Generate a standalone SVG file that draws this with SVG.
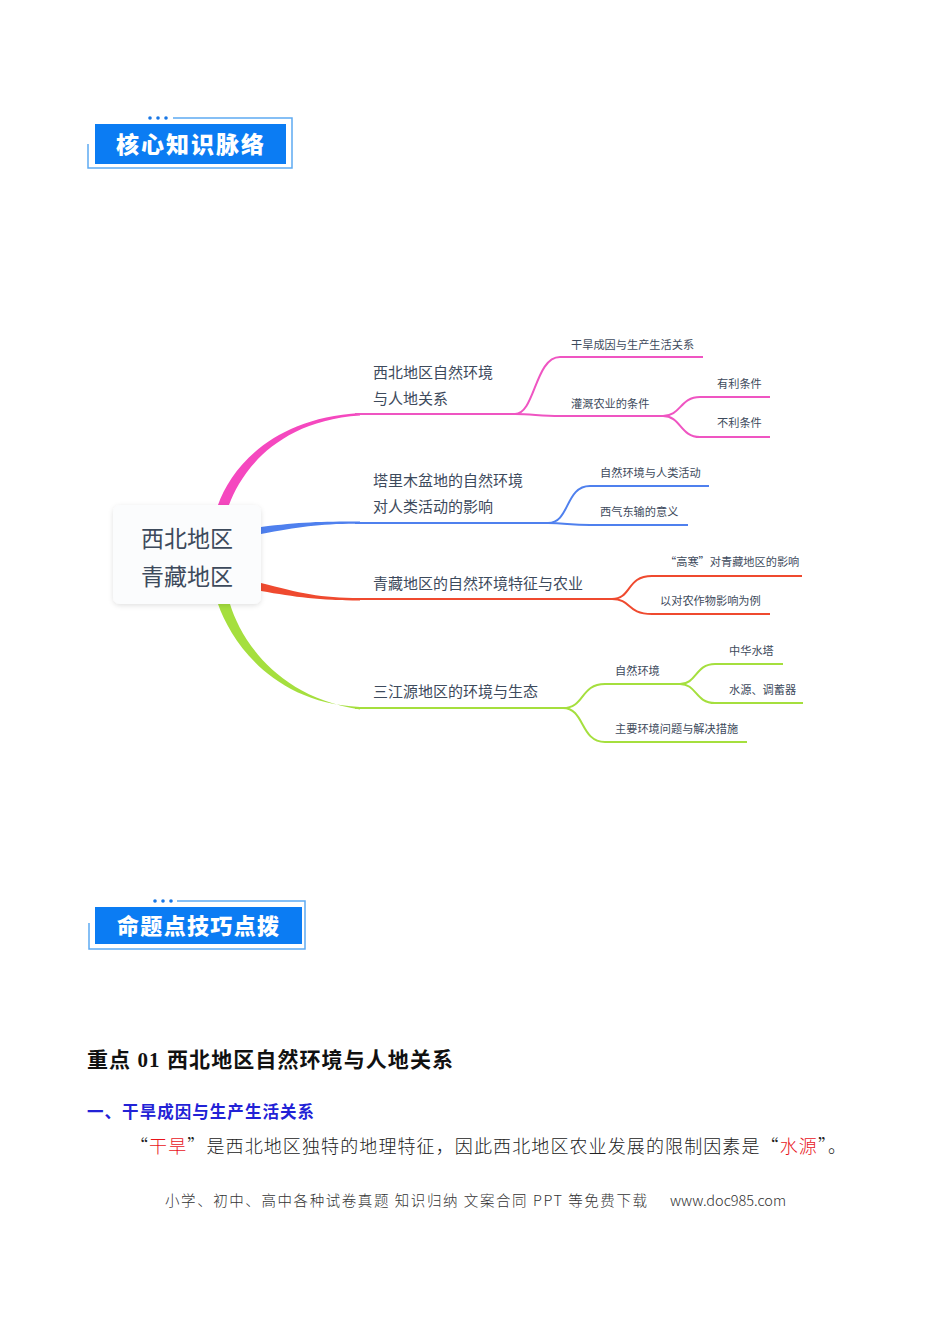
<svg xmlns="http://www.w3.org/2000/svg" width="950" height="1344" viewBox="0 0 950 1344">
<defs>
<style>
.hdr{font-family:"Noto Sans CJK SC",sans-serif;font-weight:900;fill:#ffffff;}
.frame{fill:none;stroke:#5eaaf2;stroke-width:1.5;}
.dot{fill:#1877e6;}
.mm{font-family:"Noto Sans CJK SC",sans-serif;fill:#3d4a5c;}
.t1{font-size:15px;}
.t2{font-size:11.2px;}
.pk{fill:none;stroke:#ef55c2;stroke-width:2;}
.bl{fill:none;stroke:#4f80ee;stroke-width:2;}
.rd{fill:none;stroke:#ef4a2f;stroke-width:2;}
.gr{fill:none;stroke:#a5df3e;stroke-width:2;}
.body{font-family:"Liberation Serif","Noto Sans CJK SC",serif;}
</style>
<filter id="sh" x="-20%" y="-20%" width="140%" height="150%">
<feDropShadow dx="0" dy="1.5" stdDeviation="2.5" flood-color="#000" flood-opacity="0.12"/>
</filter>
</defs>
<rect width="950" height="1344" fill="#ffffff"/>

<g id="header1">
<path class="frame" d="M173 118 H292 V168 H88 V144"/>
<circle class="dot" cx="150" cy="118" r="1.8"/><circle class="dot" cx="158" cy="118" r="1.8"/><circle class="dot" cx="166" cy="118" r="1.8"/>
<rect x="95" y="124" width="191" height="40" fill="#0b7cf3"/>
<text class="hdr" x="190" y="153" font-size="23" text-anchor="middle" textLength="148">核心知识脉络</text>
</g>

<g id="connectors">
<path d="M218 505 C231 468 272 418 360 413 L360 415.5 C277 421 241 472 229 505 Z" fill="#f548bf"/>
<path d="M261 527 C300 522 320 521.5 360 521.5 L360 523.8 C320 523.5 300 527 261 534 Z" fill="#4f80ee"/>
<path d="M261 583 C300 593 320 598 360 598 L360 600.5 C320 600.5 295 597 261 591 Z" fill="#ef4a2f"/>
<path d="M218 604 C231 641 272 703 360 707 L360 709.5 C277 697 241 640 230 604 Z" fill="#a5df3e"/>

<path class="pk" d="M355 414 L515 414"/>
<path class="pk" d="M515 414 C535 414 535 357 560 357 L703 357"/>
<path class="pk" d="M515 414 C532 414 540 416 560 416 L663 416"/>
<path class="pk" d="M663 416 C681 416 680 397 700 397 L770 397"/>
<path class="pk" d="M663 416 C681 416 680 437 700 437 L770 437"/>

<path class="bl" d="M355 523 L548 523"/>
<path class="bl" d="M548 523 C570 523 565 486 590 486 L709 486"/>
<path class="bl" d="M548 523 C565 523 570 525 590 525 L688 525"/>

<path class="rd" d="M355 599 L612 599"/>
<path class="rd" d="M612 599 C632 599 626 576 652 576 L802 576"/>
<path class="rd" d="M612 599 C632 599 626 614 652 614 L770 614"/>

<path class="gr" d="M355 708 L563 708"/>
<path class="gr" d="M563 708 C585 708 580 684 605 684 L680 684"/>
<path class="gr" d="M680 684 C697 684 695 664 715 664 L783 664"/>
<path class="gr" d="M680 684 C697 684 695 703 715 703 L803 703"/>
<path class="gr" d="M563 708 C585 708 580 742 605 742 L747 742"/>
</g>

<g id="root">
<rect x="113" y="505" width="148" height="99" rx="7" fill="#fbfcfd" filter="url(#sh)"/>
<text class="mm" x="187" y="547" font-size="23" text-anchor="middle">西北地区</text>
<text class="mm" x="187" y="585" font-size="23" text-anchor="middle">青藏地区</text>
</g>

<g id="n-xibei">
<text class="mm t1" x="373" y="378">西北地区自然环境</text>
<text class="mm t1" x="373" y="404">与人地关系</text>
</g>
<g id="n-ganhan"><text class="mm t2" x="571" y="349">干旱成因与生产生活关系</text></g>
<g id="n-guangai"><text class="mm t2" x="571" y="408">灌溉农业的条件</text></g>
<g id="n-youli"><text class="mm t2" x="717" y="388">有利条件</text></g>
<g id="n-buli"><text class="mm t2" x="717" y="427">不利条件</text></g>

<g id="n-talimu">
<text class="mm t1" x="373" y="486">塔里木盆地的自然环境</text>
<text class="mm t1" x="373" y="512">对人类活动的影响</text>
</g>
<g id="n-ziran1"><text class="mm t2" x="600" y="477">自然环境与人类活动</text></g>
<g id="n-xiqi"><text class="mm t2" x="600" y="516">西气东输的意义</text></g>

<g id="n-qingzang"><text class="mm t1" x="373" y="589">青藏地区的自然环境特征与农业</text></g>
<g id="n-gaohan"><text class="mm t2" x="665" y="566">“高寒”对青藏地区的影响</text></g>
<g id="n-nongzuowu"><text class="mm t2" x="660" y="605">以对农作物影响为例</text></g>

<g id="n-sanjiangyuan"><text class="mm t1" x="373" y="697">三江源地区的环境与生态</text></g>
<g id="n-ziran2"><text class="mm t2" x="615" y="675">自然环境</text></g>
<g id="n-zhonghua"><text class="mm t2" x="729" y="655">中华水塔</text></g>
<g id="n-shuiyuan"><text class="mm t2" x="729" y="694">水源、调蓄器</text></g>
<g id="n-wenti"><text class="mm t2" x="615" y="733">主要环境问题与解决措施</text></g>

<g id="header2">
<path class="frame" d="M177 901 H305 V949 H89 V923"/>
<circle class="dot" cx="155" cy="901" r="1.8"/><circle class="dot" cx="163" cy="901" r="1.8"/><circle class="dot" cx="171" cy="901" r="1.8"/>
<rect x="95" y="907" width="207" height="37" fill="#0b7cf3"/>
<text class="hdr" x="198" y="934" font-size="22" text-anchor="middle" textLength="162">命题点技巧点拨</text>
</g>

<g id="body">
<text class="body" x="87" y="1067" font-size="21" font-weight="bold" fill="#111" textLength="366">重点 01 西北地区自然环境与人地关系</text>
<text x="87" y="1118" font-family="Noto Sans CJK SC,sans-serif" font-size="16.5" font-weight="bold" fill="#2222d6" textLength="227">一、干旱成因与生产生活关系</text>
<text x="130" y="1153" font-family="Noto Sans CJK SC,sans-serif" font-size="18" font-weight="300" fill="#222" textLength="716">“<tspan fill="#e8141a">干旱</tspan>”是西北地区独特的地理特征，因此西北地区农业发展的限制因素是“<tspan fill="#e8141a">水源</tspan>”。</text>
<text x="165" y="1206" font-family="Noto Sans CJK SC,sans-serif" font-size="14.5" font-weight="300" fill="#333" textLength="482">小学、初中、高中各种试卷真题 知识归纳 文案合同 PPT 等免费下载</text>
<text x="670" y="1206" font-family="Noto Sans CJK SC,sans-serif" font-size="14.5" font-weight="300" fill="#333" textLength="116">www.doc985.com</text>
</g>
</svg>
